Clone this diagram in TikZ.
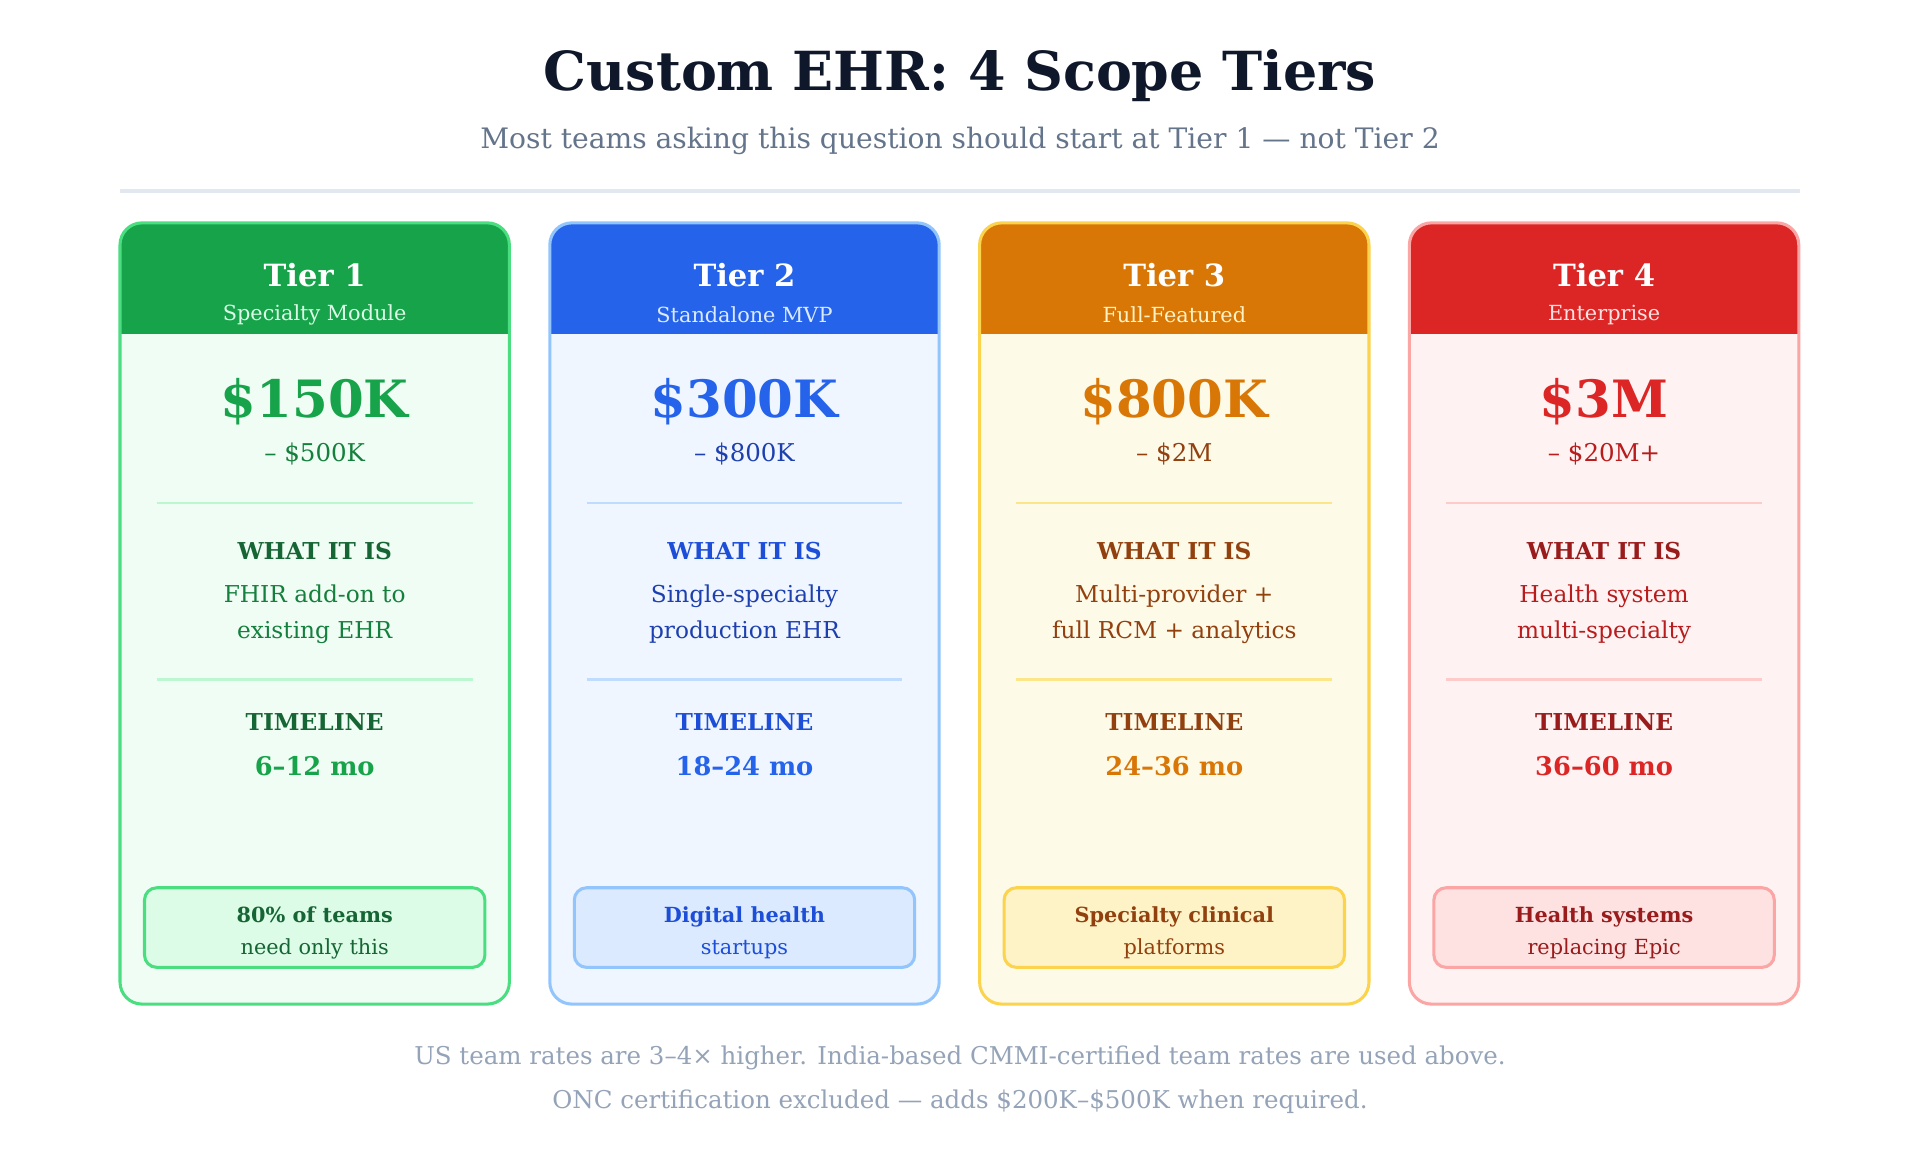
\documentclass[tikz,border=0pt]{standalone}
\usepackage{fontspec}
\setmainfont{DejaVu Serif}
\definecolor{ink}{HTML}{0F172A}
\definecolor{slate}{HTML}{64748B}
\definecolor{note}{HTML}{94A3B8}
\definecolor{rulegray}{HTML}{E2E8F0}
% tier colours: main, light, border, divider, dark, text, box, headsub
\definecolor{mainA}{HTML}{16A34A}\definecolor{lightA}{HTML}{F0FDF4}\definecolor{edgeA}{HTML}{4ADE80}\definecolor{divA}{HTML}{BBF7D0}\definecolor{darkA}{HTML}{166534}\definecolor{textA}{HTML}{15803D}\definecolor{boxA}{HTML}{DCFCE7}\definecolor{subA}{HTML}{DCFCE7}
\definecolor{mainB}{HTML}{2563EB}\definecolor{lightB}{HTML}{EFF6FF}\definecolor{edgeB}{HTML}{93C5FD}\definecolor{divB}{HTML}{BFDBFE}\definecolor{darkB}{HTML}{1D4ED8}\definecolor{textB}{HTML}{1E40AF}\definecolor{boxB}{HTML}{DBEAFE}\definecolor{subB}{HTML}{DBEAFE}
\definecolor{mainC}{HTML}{D97706}\definecolor{lightC}{HTML}{FEFAE8}\definecolor{edgeC}{HTML}{FCD34D}\definecolor{divC}{HTML}{FDE68A}\definecolor{darkC}{HTML}{92400E}\definecolor{textC}{HTML}{92400E}\definecolor{boxC}{HTML}{FEF3C7}\definecolor{subC}{HTML}{FEF3C7}
\definecolor{mainD}{HTML}{DC2626}\definecolor{lightD}{HTML}{FEF2F2}\definecolor{edgeD}{HTML}{FCA5A5}\definecolor{divD}{HTML}{FECACA}\definecolor{darkD}{HTML}{991B1B}\definecolor{textD}{HTML}{B91C1C}\definecolor{boxD}{HTML}{FEE2E2}\definecolor{subD}{HTML}{FEE2E2}
\tikzset{every picture/.style={line width=0.75pt}}

\begin{document}
\begin{tikzpicture}[x=1pt,y=1pt,yscale=-1,xscale=1]
\useasboundingbox[fill=white] (0,0) rectangle (1568,947);

% Title
\node (title) at (784,62) {\fontsize{44}{50}\selectfont\bfseries\color{ink}Custom EHR: 4 Scope Tiers};
\node (subtitle) at (784,115) {\fontsize{23}{28}\selectfont\color{slate}Most teams asking this question should start at Tier 1 — not Tier 2};
\draw[rulegray,line width=2.5pt] (98,156) -- (1470,156);

% Cards
\foreach \x/\t/\n/\s/\p/\r/\dA/\dB/\tm/\bA/\bB in {
  98/A/1/Specialty Module/\$150K/– \$500K/FHIR add-on to/existing EHR/6–12 mo/80\% of teams/need only this,
  449/B/2/Standalone MVP/\$300K/– \$800K/Single-specialty/production EHR/18–24 mo/Digital health/startups,
  800/C/3/Full-Featured/\$800K/– \$2M/Multi-provider +/full RCM + analytics/24–36 mo/Specialty clinical/platforms,
  1151/D/4/Enterprise/\$3M/– \$20M+/Health system/multi-specialty/36–60 mo/Health systems/replacing Epic}
{
  \pgfmathsetmacro{\cx}{\x+159}
  \fill[light\t,rounded corners=18] (\x,182) rectangle (\x+318,820);
  \fill[main\t,rounded corners=18] (\x,182) rectangle (\x+318,300);
  \fill[light\t] (\x,273) rectangle (\x+318,302);
  \draw[edge\t,line width=2.5pt,rounded corners=18] (\x,182) rectangle (\x+318,820);
  \node (tier\n) at (\cx,225) {\fontsize{25}{30}\selectfont\bfseries\color{white}Tier \n};
  \node (sub\n) at (\cx,257) {\fontsize{17}{20}\selectfont\color{sub\t}\s};
  \node (price\n) at (\cx,328) {\fontsize{42}{48}\selectfont\bfseries\color{main\t}\p};
  \node (range\n) at (\cx,371) {\fontsize{20}{24}\selectfont\color{text\t}\r};
  \draw[div\t,line width=2pt] (\x+30,411) -- (\x+288,411);
  \node (what\n) at (\cx,450) {\fontsize{19}{22}\selectfont\bfseries\color{dark\t}WHAT IT IS};
  \node (desc\n) at (\cx,501) {\fontsize{19}{29}\selectfont\color{text\t}\begin{tabular}{@{}c@{}}\dA\\\dB\end{tabular}};
  \draw[div\t,line width=2pt] (\x+30,555) -- (\x+288,555);
  \node (time\n) at (\cx,590) {\fontsize{19}{22}\selectfont\bfseries\color{dark\t}TIMELINE};
  \node (span\n) at (\cx,626) {\fontsize{21}{25}\selectfont\bfseries\color{main\t}\tm};
  \draw[edge\t,fill=box\t,line width=2.5pt,rounded corners=10] (\x+20,725) rectangle (\x+298,790);
  \node (best\n) at (\cx,761) {\fontsize{17}{26}\selectfont\color{dark\t}\begin{tabular}{@{}c@{}}\textbf{\bA}\\\bB\end{tabular}};
}

% Footer
\node (footA) at (784,864) {\fontsize{20}{24}\selectfont\color{note}US team rates are 3–4× higher. India-based CMMI-certified team rates are used above.};
\node (footB) at (784,900) {\fontsize{20}{24}\selectfont\color{note}ONC certification excluded — adds \$200K–\$500K when required.};
\end{tikzpicture}
\end{document}
